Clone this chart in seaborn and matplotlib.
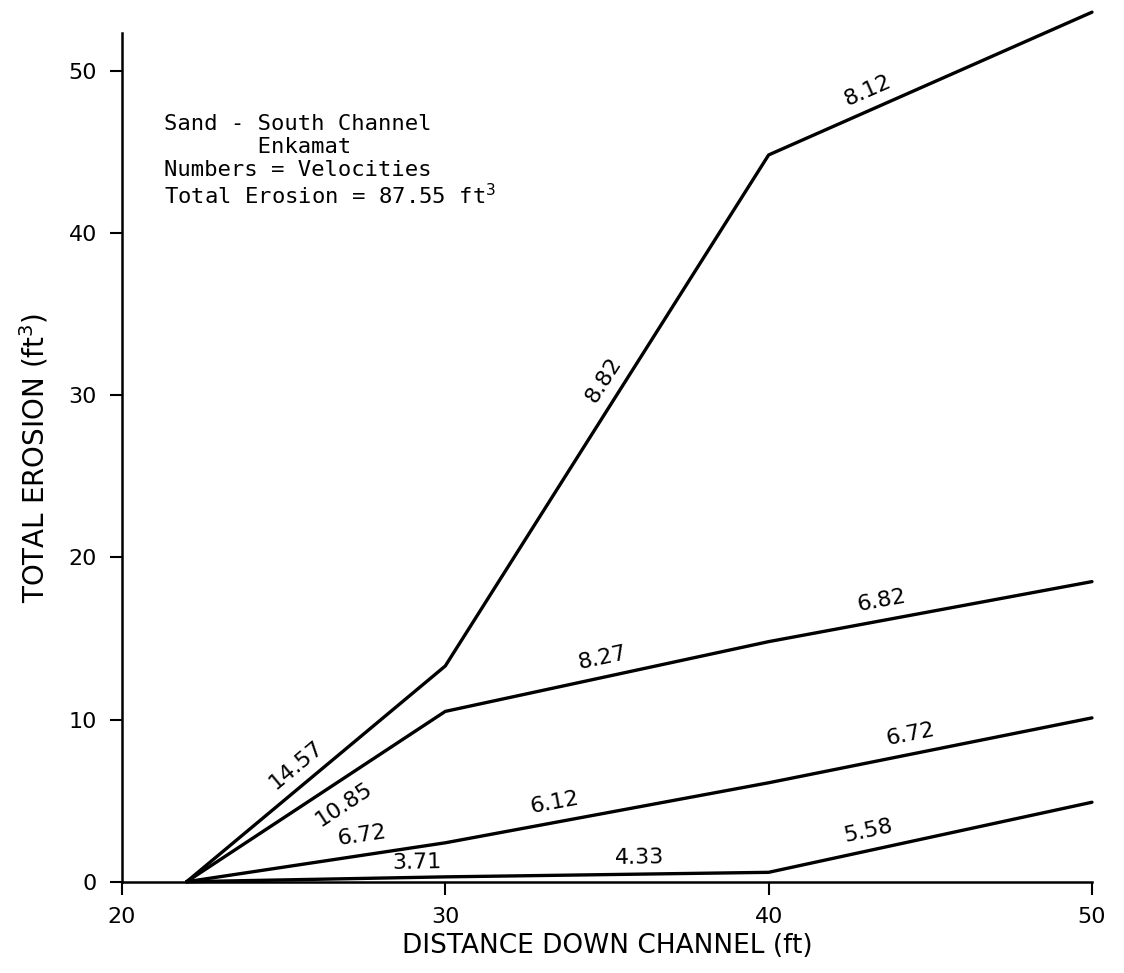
import numpy as np
import matplotlib
matplotlib.use("Agg")
import matplotlib.pyplot as plt
import seaborn as sns

# distance down channel (ft) and cumulative erosion (ft^3) per run
distance = [22, 30, 40, 50]
erosion_1 = [0, 13.3, 44.8, 53.6]
erosion_2 = [0, 10.5, 14.8, 18.5]
erosion_3 = [0, 2.4, 6.1, 10.1]
erosion_4 = [0, 0.3, 0.58, 4.9]

# velocity written on each segment
velocity_1 = ['14.57', '8.82', '8.12']
velocity_2 = ['10.85', '8.27', '6.82']
velocity_3 = ['6.72', '6.12', '6.72']
velocity_4 = ['3.71', '4.33', '5.58']

x_ticks = [20, 30, 40, 50]
y_ticks = [0, 10, 20, 30, 40, 50]

sns.set_style("ticks")
plt.rcParams['font.family'] = ['DejaVu Sans']
plt.rcParams['text.color'] = 'black'
plt.rcParams['axes.labelcolor'] = 'black'

fig = plt.figure(figsize=(11.24, 9.73), dpi=100)
ax = fig.add_axes([0.1085, 0.0938, 0.863, 0.872])
ax.set_xlim(20, 50)
ax.set_ylim(0, 52.3)

series = [erosion_1, erosion_2, erosion_3, erosion_4]
for ys in series:
    sns.lineplot(x=distance, y=ys, color='black', linewidth=2.4,
                 clip_on=False, ax=ax, legend=False)

# where along each segment the label sits, and offset (points) from the line
label_pos = [[0.47, 0.54, 0.33],
             [0.56, 0.5, 0.36],
             [0.69, 0.35, 0.45],
             [0.89, 0.6, 0.32]]
label_side = [[14, 14, 14],
              [-16, 14, 14],
              [14, 14, 14],
              [11, 12, 14]]
velocities = [velocity_1, velocity_2, velocity_3, velocity_4]

fig.canvas.draw()
for ys, labs, pos, side in zip(series, velocities, label_pos, label_side):
    for i in range(3):
        p0 = ax.transData.transform((distance[i], ys[i]))
        p1 = ax.transData.transform((distance[i + 1], ys[i + 1]))
        ang = np.arctan2(p1[1] - p0[1], p1[0] - p0[0])
        t = pos[i]
        xm = distance[i] + t * (distance[i + 1] - distance[i])
        ym = ys[i] + t * (ys[i + 1] - ys[i])
        d = side[i]
        ax.annotate(labs[i], xy=(xm, ym),
                    xytext=(-d * np.sin(ang), d * np.cos(ang)),
                    textcoords='offset points', ha='center', va='center',
                    rotation=np.degrees(ang), rotation_mode='anchor',
                    fontsize=16, color='black')

ax.text(0.043, 0.905,
        'Sand - South Channel\n       Enkamat\nNumbers = Velocities\nTotal Erosion = 87.55 ft$^3$',
        transform=ax.transAxes, fontsize=16, family='DejaVu Sans Mono',
        va='top', ha='left', linespacing=1.18, color='black')

ax.set_xticks(x_ticks)
ax.set_yticks(y_ticks)
ax.tick_params(direction='out', length=9, width=1.5, labelsize=16, pad=9,
               colors='black')
for s in ['top', 'right']:
    ax.spines[s].set_visible(False)
for s in ['left', 'bottom']:
    ax.spines[s].set_linewidth(1.8)
    ax.spines[s].set_color('black')

ax.set_xlabel('DISTANCE DOWN CHANNEL (ft)', fontsize=19)
ax.set_ylabel('TOTAL EROSION (ft$^3$)', fontsize=20)
ax.xaxis.set_label_coords(0.5, -0.06)
ax.yaxis.set_label_coords(-0.074, 0.5)

fig.savefig('out.png', dpi=100)
